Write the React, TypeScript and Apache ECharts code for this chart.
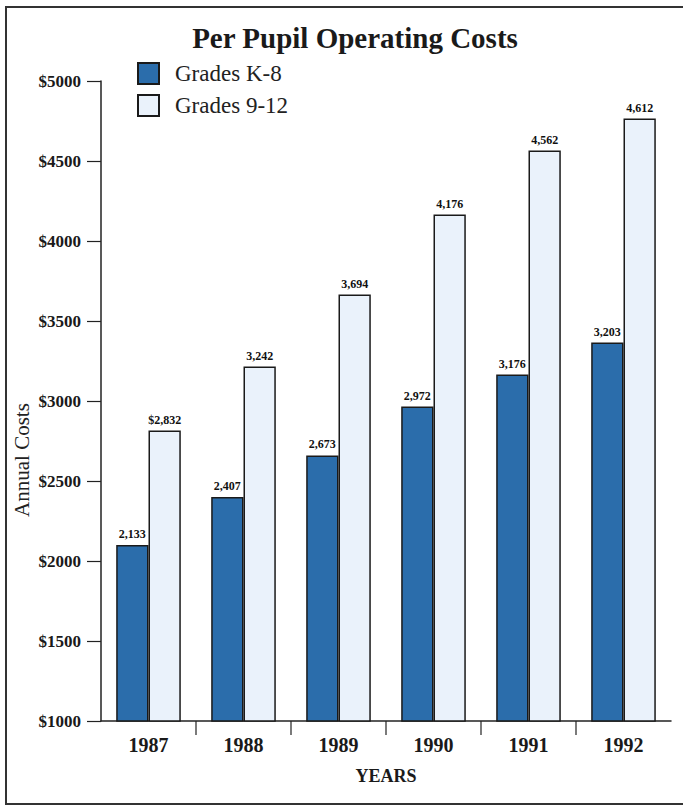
import React, { useEffect, useRef } from "react";
import * as echarts from "echarts";

const years = ["1987", "1988", "1989", "1990", "1991", "1992"];
const k8Values = [2100, 2400, 2660, 2965, 3165, 3365];
const hsValues = [2815, 3215, 3665, 4165, 4565, 4765];
const k8Labels = ["2,133", "2,407", "2,673", "2,972", "3,176", "3,203"];
const hsLabels = ["$2,832", "3,242", "3,694", "4,176", "4,562", "4,612"];
const yTicks = { min: 1000, max: 5000, interval: 500 };

const SERIF = "Liberation Serif";

export default function App() {
  const ref = useRef<HTMLDivElement>(null);
  useEffect(() => {
    document.body.style.margin = "0";
    const chart = echarts.init(ref.current!, null, { renderer: "svg" });
    const labelStyle = {
      show: true,
      position: "top" as const,
      distance: 5,
      fontFamily: SERIF,
      fontSize: 12,
      fontWeight: "bold" as const,
      color: "#111",
    };
    chart.setOption({
      animation: false,
      backgroundColor: "#fff",
      textStyle: { fontFamily: SERIF },
      title: {
        text: "Per Pupil Operating Costs",
        left: 350,
        textAlign: "center",
        top: 18,
        textStyle: { fontFamily: SERIF, fontSize: 29, fontWeight: "bold", color: "#1a1a1a" },
      },
      legend: {
        orient: "vertical",
        left: 132,
        top: 57,
        itemWidth: 21,
        itemHeight: 21,
        itemGap: 9,
        icon: "rect",
        textStyle: { fontFamily: SERIF, fontSize: 23, color: "#222", padding: [0, 0, 0, 11] },
        data: ["Grades K-8", "Grades 9-12"],
      },
      grid: { left: 101, right: 12, top: 81, bottom: 86 },
      xAxis: {
        type: "category",
        data: years,
        axisLine: { lineStyle: { color: "#222", width: 1.5 } },
        axisTick: { show: false },
        axisLabel: { fontFamily: SERIF, fontSize: 20, fontWeight: "bold", color: "#1a1a1a", margin: 14 },
        name: "YEARS",
        nameLocation: "middle",
        nameGap: 46,
        nameTextStyle: { fontFamily: SERIF, fontSize: 18, fontWeight: "bold", color: "#1a1a1a" },
      },
      yAxis: {
        type: "value",
        min: yTicks.min,
        max: yTicks.max,
        interval: yTicks.interval,
        axisLine: { show: true, lineStyle: { color: "#222", width: 1.5 } },
        axisTick: { show: true, length: 14, lineStyle: { color: "#222", width: 1.2 } },
        splitLine: { show: false },
        axisLabel: {
          fontFamily: SERIF,
          fontSize: 17,
          fontWeight: "bold",
          color: "#1a1a1a",
          margin: 20,
          formatter: (v: number) => "$" + v,
        },
      },
      series: [
        {
          name: "Grades K-8",
          type: "bar",
          data: k8Values,
          barGap: "0%",
          barCategoryGap: "32%",
          itemStyle: { color: "#2b6dab", borderColor: "#1a1a1a", borderWidth: 1.5 },
          label: { ...labelStyle, formatter: (p: any) => k8Labels[p.dataIndex] },
        },
        {
          name: "Grades 9-12",
          type: "bar",
          data: hsValues,
          barGap: "0%",
          barCategoryGap: "32%",
          itemStyle: { color: "#eaf2fb", borderColor: "#1a1a1a", borderWidth: 1.5 },
          label: { ...labelStyle, formatter: (p: any) => hsLabels[p.dataIndex] },
        },
      ],
    });
    const baseY = chart.convertToPixel({ yAxisIndex: 0 }, yTicks.min) as number;
    const tickLines: any[] = [];
    for (let i = 1; i < years.length; i++) {
      const a = chart.convertToPixel({ xAxisIndex: 0 }, years[i - 1]) as number;
      const b = chart.convertToPixel({ xAxisIndex: 0 }, years[i]) as number;
      const x = (a + b) / 2;
      tickLines.push({
        type: "line",
        shape: { x1: x, y1: baseY, x2: x, y2: baseY + 14 },
        style: { stroke: "#222", lineWidth: 1.2 },
      });
    }
    chart.setOption({
      graphic: [
        {
          type: "rect",
          shape: { x: 6, y: 7, width: 760, height: 797 },
          style: { fill: "none", stroke: "#333", lineWidth: 2 },
          silent: true,
        },
        {
          type: "text",
          x: 22,
          y: 460,
          rotation: Math.PI / 2,
          style: {
            text: "Annual Costs",
            fontFamily: SERIF,
            fontSize: 21,
            fill: "#222",
            align: "center",
            verticalAlign: "middle",
          },
        },
        ...tickLines,
      ],
    });
    return () => chart.dispose();
  }, []);
  return <div ref={ref} style={{ width: 683, height: 807 }} />;
}
